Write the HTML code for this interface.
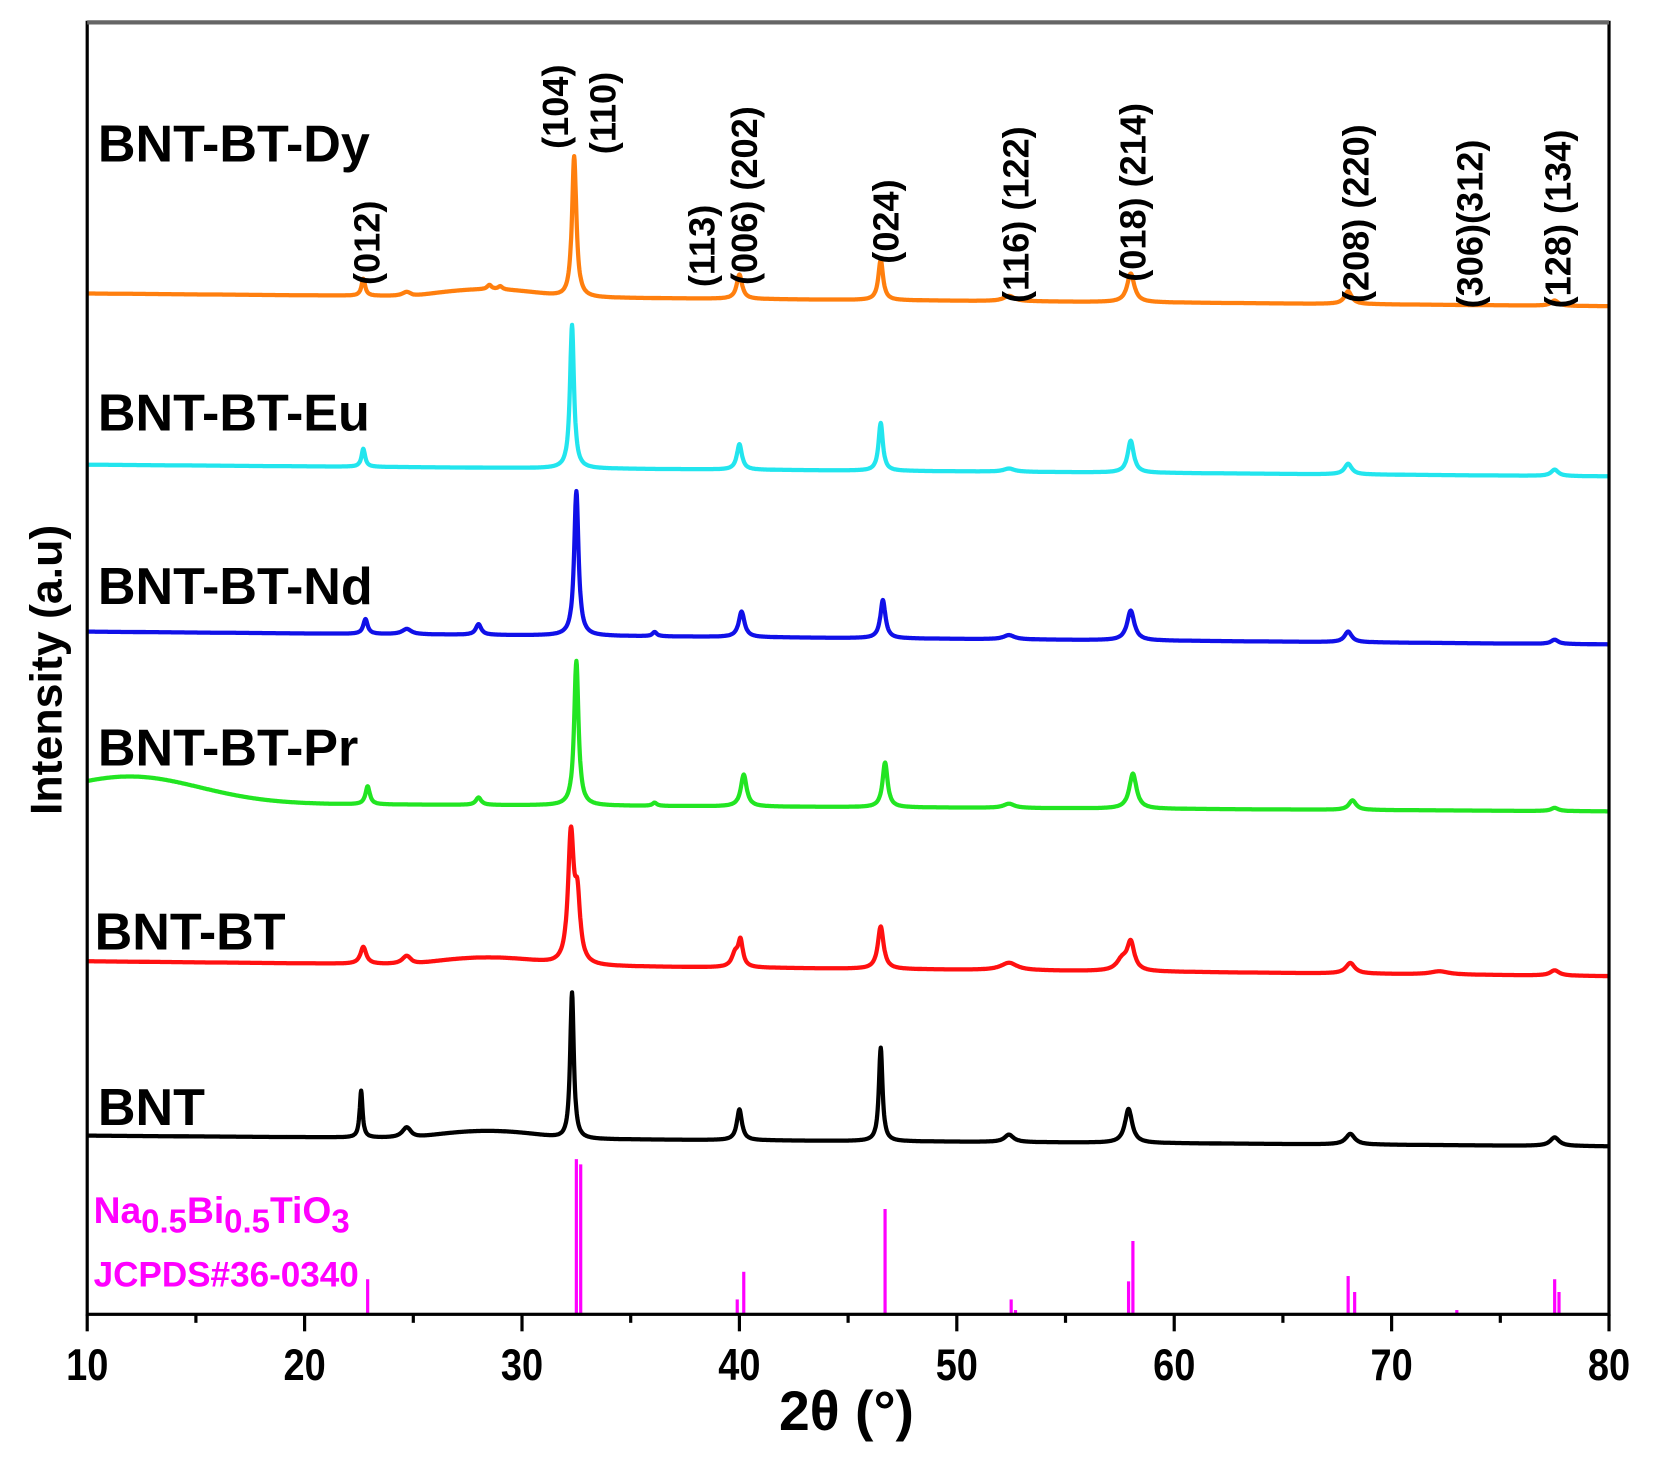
<!DOCTYPE html>
<html><head><meta charset="utf-8"><style>
html,body{margin:0;padding:0;background:#fff;}
svg{display:block;}
text{font-family:"Liberation Sans",sans-serif;font-weight:bold;}
</style></head><body>
<svg id="s" width="1659" height="1460" viewBox="0 0 1560 1373" preserveAspectRatio="none" xmlns="http://www.w3.org/2000/svg">
<rect x="0" y="0" width="1560" height="1373" fill="#fff"/>
<g id="curves"></g>
<g id="sticks" stroke="#ff00ff" stroke-width="3"></g>
<rect x="82" y="21" width="1431" height="1215" fill="none" stroke="#000" stroke-width="3"/>
<line x1="82" y1="21" x2="1513" y2="21" stroke="#666" stroke-width="4"/>
<g id="ticks" stroke="#000" stroke-width="3"></g>
<g font-size="42" text-anchor="middle" id="tl"></g>
<text x="796" y="1345" font-size="52" text-anchor="middle">2θ (°)</text>
<text transform="translate(58,630) rotate(-90)" font-size="42" text-anchor="middle">Intensity (a.u)</text>
<g font-size="49">
<text x="92" y="152">BNT-BT-Dy</text>
<text x="92" y="405">BNT-BT-Eu</text>
<text x="92" y="568">BNT-BT-Nd</text>
<text x="92" y="720">BNT-BT-Pr</text>
<text x="89" y="893">BNT-BT</text>
<text x="92" y="1058">BNT</text>
</g>
<g fill="#ff00ff" font-size="33">
<text x="88" y="1150" font-size="35">Na<tspan font-size="31" dy="9">0.5</tspan><tspan dy="-9">Bi</tspan><tspan font-size="31" dy="9">0.5</tspan><tspan dy="-9">TiO</tspan><tspan font-size="31" dy="9">3</tspan></text>
<text x="88" y="1210">JCPDS#36-0340</text>
</g>
<g font-size="34" id="hkl"></g>
</svg>
<script>
var X=function(t){return 82+(t-10)*1431/70;};
var series=[
 ["#ff7f0e",276,288,[[22.7,16,.1],[24.7,4,.25],[28.5,4,.12],[29,3,.12],[32.4,133,.12],[40,23,.15],[46.5,38,.13],[52.4,5,.3],[58,27,.2],[68,12,.2],[77.5,5,.2]]],
 ["#22e5ee",437,448,[[22.7,17,.1],[32.3,135,.11],[40,24,.14],[46.5,45,.12],[52.4,3,.3],[58,30,.17],[68,10,.2],[77.5,6,.2]]],
 ["#1010e8",594,606,[[22.8,14,.12],[24.7,5,.25],[28,10,.15],[32.5,136,.12],[36.1,4,.12],[40.1,24,.16],[46.6,36,.14],[52.4,4,.3],[58,28,.2],[68,10,.2],[77.5,4,.2]]],
 ["#22e522",755,763,[[22.9,17,.12],[28,7,.15],[32.5,136,.12],[36.1,3,.12],[40.2,30,.16],[46.7,42,.14],[52.4,4,.3],[58.1,33,.2],[68.2,9,.2],[77.5,3,.2]]],
 ["#ff1010",904,918,[[22.7,16,.16],[24.7,8,.25],[32.25,120,.16],[32.55,55,.15],[39.8,12,.18],[40.05,24,.13],[46.5,40,.16],[52.4,7,.45],[57.6,10,.3],[58,26,.2],[68.1,10,.25],[72.2,3,.5],[77.5,5,.25]]],
 ["#000000",1068,1078,[[22.6,44,.08],[24.7,10,.25],[32.3,138,.1],[40,29,.14],[46.5,88,.1],[52.4,7,.25],[57.9,32,.2],[68.1,10,.25],[77.5,8,.25]]]
];
var g=document.getElementById('curves'),h='';
series.forEach(function(s){
 var d='';
 for(var t=10;t<=80.001;t+=0.02){
  var y=s[1]+(s[2]-s[1])*(t-10)/70;
  if(s[0]=="#22e522"){y-=25*Math.exp(-Math.pow((t-12)/4.5,2));}
  if(s[0]=="#000000"||s[0]=="#ff1010"||s[0]=="#ff7f0e"){ if(t>25&&t<32) y-=7*Math.sin((t-25)/7*Math.PI);}
  s[3].forEach(function(p){var u=(t-p[0])/p[2];y-=p[1]/(1+u*u);});
  d+=(d?'L':'M')+X(t).toFixed(1)+','+y.toFixed(1);
 }
 h+='<path d="'+d+'" fill="none" stroke="'+s[0]+'" stroke-width="4" stroke-linejoin="round"/>';
});
g.innerHTML=h;
var st=[[22.9,1203],[32.5,1090],[32.7,1095],[39.9,1222],[40.2,1196],[46.7,1137],[52.5,1222],[52.7,1232],[57.9,1205],[58.1,1167],[68,1200],[68.3,1215],[73,1232],[77.5,1203],[77.7,1215]];
h='';st.forEach(function(p){var x=X(p[0]);h+='<line x1="'+x+'" y1="1236" x2="'+x+'" y2="'+p[1]+'"/>';});
document.getElementById('sticks').innerHTML=h;
h='';var tl='';
for(var t=10;t<=80;t+=5){var x=X(t);var maj=t%10==0;h+='<line x1="'+x+'" y1="1236" x2="'+x+'" y2="'+(maj?1252:1244)+'"/>';if(maj)tl+='<text transform="translate('+x+',1298) scale(0.85,1)">'+t+'</text>';}
document.getElementById('ticks').innerHTML=h;document.getElementById('tl').innerHTML=tl;
var hk=[["(012)",345,268],["(104)",522,140],["(110)",567,145],["(113)",660,270],["(006) (202)",700,268],["(024)",833,248],["(116) (122)",955,285],["(018) (214)",1065,265],["(208) (220)",1275,285],["(306)(312)",1382,290],["(128) (134)",1465,290]];
h='';hk.forEach(function(k){h+='<text transform="translate('+(k[1]+12)+','+k[2]+') rotate(-90)">'+k[0]+'</text>';});
document.getElementById('hkl').innerHTML=h;
</script>
</body></html>
